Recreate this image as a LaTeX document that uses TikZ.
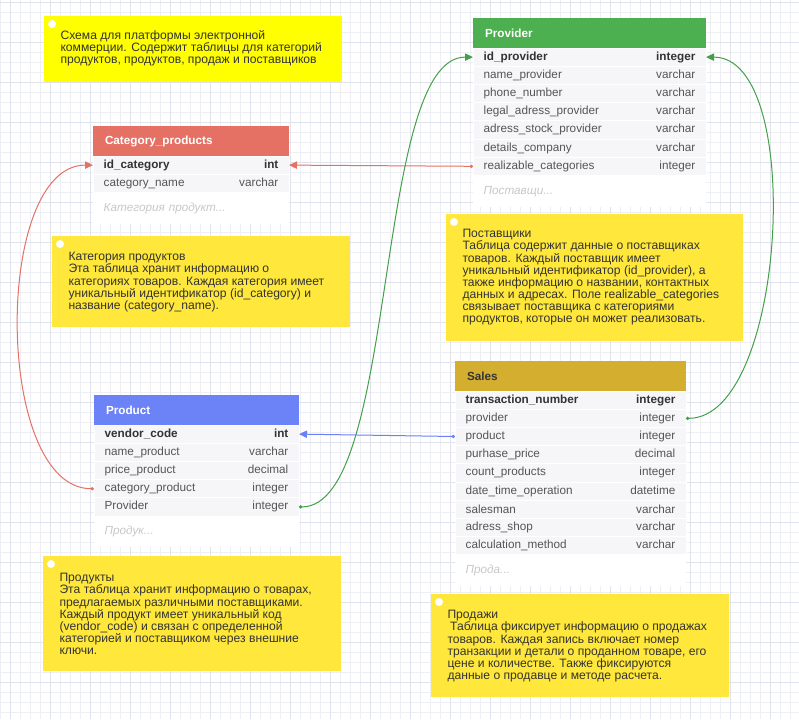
\documentclass[tikz,border=0pt]{standalone}
\usepackage{fontspec}
\setmainfont{Liberation Sans}
\usetikzlibrary{arrows.meta}

\definecolor{gridminor}{RGB}{237,239,244}
\definecolor{gridmajor}{RGB}{224,227,236}
\definecolor{catred}{RGB}{229,113,100}
\definecolor{provgreen}{RGB}{76,175,80}
\definecolor{prodblue}{RGB}{108,130,247}
\definecolor{salesgold}{RGB}{212,175,47}
\definecolor{notebright}{RGB}{255,255,0}
\definecolor{noteyel}{RGB}{255,232,59}
\definecolor{rowbg}{RGB}{246,246,248}
\definecolor{fldgrey}{RGB}{85,85,85}
\definecolor{keygrey}{RGB}{51,51,51}
\definecolor{hintgrey}{RGB}{200,200,200}
\definecolor{linkgreen}{RGB}{67,160,71}
\definecolor{linkblue}{RGB}{108,128,245}

\tikzset{every picture/.style={line width=0.75pt}}
\tikzset{
  tblhead/.style={anchor=north west, inner xsep=9pt, inner ysep=0pt, outer sep=0pt, minimum height=22.5pt,
    align=left, text=white, font=\bfseries\fontsize{8.8}{10}\selectfont},
  fld/.style={anchor=north west, fill=rowbg, draw=white, line width=0.5pt, inner xsep=8pt,
    inner ysep=0pt, outer sep=0pt, minimum height=13.65pt, text width=#1, align=left, text=fldgrey,
    font=\fontsize{8.8}{10}\selectfont},
  keyrow/.style={text=keygrey, font=\bfseries\fontsize{8.8}{10}\selectfont},
  hint/.style={anchor=north west, fill=white, inner xsep=8pt, inner ysep=0pt, outer sep=0pt,
    minimum height=23.6pt, text width=#1, align=left, text=hintgrey,
    font=\itshape\fontsize{8.8}{10}\selectfont},
  notebox/.style={anchor=north west, inner sep=0pt, outer sep=0pt},
  notetext/.style={anchor=north west, inner sep=0pt, align=left, text=keygrey,
    font=\fontsize{9.1}{9.1}\selectfont},
  link/.style={line width=0.75pt, arrows={Circle[length=2.5pt]-Triangle[length=6pt,width=5.5pt]}}
}

\begin{document}
\begin{tikzpicture}[x=0.75pt,y=0.75pt,yscale=-1,xscale=1]
	\useasboundingbox (0,0) rectangle (799,719);
	%Background grid
	\fill [white] (0,0) rectangle (799,719);
	\draw [gridminor, line width=0.4pt, xstep=7.5pt, ystep=7.5pt, shift={(0,2)}] (0,-2) grid (799,717);
	\draw [gridmajor, line width=0.4pt, xstep=30pt, ystep=30pt, shift={(10,2)}] (-10,-2) grid (789,717);

	%Note: schema
	\node [notebox, fill=notebright, minimum width=223.5pt, minimum height=49.5pt] (n-top) at (44,16) {};
	\fill [white] ([shift={(8,8)}]n-top.north west) circle (4);
	\node [notetext] (n-top-t) at ([shift={(16,14)}]n-top.north west) {Схема для платформы электронной\\коммерции. Содержит таблицы для категорий\\продуктов, продуктов, продаж и поставщиков};

	%Table: Category_products
	\node [tblhead, fill=catred, text width=129pt] (cat) at (93,126) {Category\_products};
	\node [fld=131pt, keyrow] (cat-id) at (cat.south west) {id\_category\hfill int};
	\node [fld=131pt] (cat-name) at (cat-id.south west) {category\_name\hfill varchar};
	\node [hint=131pt] (cat-hint) at (cat-name.south west) {Категория продукт...};

	%Table: Provider
	\node [tblhead, fill=provgreen, text width=156.75pt] (prov) at (473,18) {Provider};
	\node [fld=158.75pt, keyrow] (prov-id) at (prov.south west) {id\_provider\hfill integer};
	\node [fld=158.75pt] (prov-name) at (prov-id.south west) {name\_provider\hfill varchar};
	\node [fld=158.75pt] (prov-phone) at (prov-name.south west) {phone\_number\hfill varchar};
	\node [fld=158.75pt] (prov-legal) at (prov-phone.south west) {legal\_adress\_provider\hfill varchar};
	\node [fld=158.75pt] (prov-stock) at (prov-legal.south west) {adress\_stock\_provider\hfill varchar};
	\node [fld=158.75pt] (prov-det) at (prov-stock.south west) {details\_company\hfill varchar};
	\node [fld=158.75pt] (prov-real) at (prov-det.south west) {realizable\_categories\hfill integer};
	\node [hint=158.75pt] (prov-hint) at (prov-real.south west) {Поставщи...};

	%Note: category
	\node [notebox, fill=noteyel, minimum width=223.5pt, minimum height=68.25pt] (n-cat) at (52,236) {};
	\fill [white] ([shift={(8,8)}]n-cat.north west) circle (4);
	\node [notetext] (n-cat-t) at ([shift={(16,16)}]n-cat.north west) {Категория продуктов\\Эта таблица хранит информацию о\\категориях товаров. Каждая категория имеет\\уникальный идентификатор (id\_category) и\\название (category\_name).};

	%Note: provider
	\node [notebox, fill=noteyel, minimum width=222.75pt, minimum height=95.25pt] (n-prov) at (446,214) {};
	\fill [white] ([shift={(8,8)}]n-prov.north west) circle (4);
	\node [notetext] (n-prov-t) at ([shift={(16,15)}]n-prov.north west) {Поставщики\\Таблица содержит данные о поставщиках\\товаров. Каждый поставщик имеет\\уникальный идентификатор (id\_provider), а\\также информацию о названии, контактных\\данных и адресах. Поле realizable\_categories\\связывает поставщика с категориями\\продуктов, которые он может реализовать.};

	%Table: Product
	\node [tblhead, fill=prodblue, text width=135.75pt] (prod) at (94,395) {Product};
	\node [fld=137.75pt, keyrow] (prod-id) at (prod.south west) {vendor\_code\hfill int};
	\node [fld=137.75pt] (prod-name) at (prod-id.south west) {name\_product\hfill varchar};
	\node [fld=137.75pt] (prod-price) at (prod-name.south west) {price\_product\hfill decimal};
	\node [fld=137.75pt] (prod-cat) at (prod-price.south west) {category\_product\hfill integer};
	\node [fld=137.75pt] (prod-prov) at (prod-cat.south west) {Provider\hfill integer};
	\node [hint=137.75pt] (prod-hint) at (prod-prov.south west) {Продук...};

	%Table: Sales
	\node [tblhead, fill=salesgold, text=keygrey, text width=155.25pt] (sale) at (455,361) {Sales};
	\node [fld=157.25pt, keyrow] (sale-id) at (sale.south west) {transaction\_number\hfill integer};
	\node [fld=157.25pt] (sale-prov) at (sale-id.south west) {provider\hfill integer};
	\node [fld=157.25pt] (sale-prod) at (sale-prov.south west) {product\hfill integer};
	\node [fld=157.25pt] (sale-price) at (sale-prod.south west) {purhase\_price\hfill decimal};
	\node [fld=157.25pt] (sale-count) at (sale-price.south west) {count\_products\hfill integer};
	\node [fld=157.25pt] (sale-date) at (sale-count.south west) {date\_time\_operation\hfill datetime};
	\node [fld=157.25pt] (sale-man) at (sale-date.south west) {salesman\hfill varchar};
	\node [fld=157.25pt] (sale-shop) at (sale-man.south west) {adress\_shop\hfill varchar};
	\node [fld=157.25pt] (sale-calc) at (sale-shop.south west) {calculation\_method\hfill varchar};
	\node [hint=157.25pt] (sale-hint) at (sale-calc.south west) {Прода...};

	%Note: product
	\node [notebox, fill=noteyel, minimum width=223.5pt, minimum height=86.25pt] (n-prod) at (43,556) {};
	\fill [white] ([shift={(8,8)}]n-prod.north west) circle (4);
	\node [notetext] (n-prod-t) at ([shift={(16,17)}]n-prod.north west) {Продукты\\Эта таблица хранит информацию о товарах,\\предлагаемых различными поставщиками.\\Каждый продукт имеет уникальный код\\(vendor\_code) и связан с определенной\\категорией и поставщиком через внешние\\ключи.};

	%Note: sales
	\node [notebox, fill=noteyel, minimum width=223.5pt, minimum height=77.25pt] (n-sale) at (431,594) {};
	\fill [white] ([shift={(8,8)}]n-sale.north west) circle (4);
	\node [notetext] (n-sale-t) at ([shift={(16,16)}]n-sale.north west) {Продажи\\\hspace*{2pt}Таблица фиксирует информацию о продажах\\товаров. Каждая запись включает номер\\транзакции и детали о проданном товаре, его\\цене и количестве. Также фиксируются\\данные о продавце и методе расчета.};

	%Links
	\draw [link, catred] (prov-real.west) -- (cat-id.east);
	\draw [link, catred] (prod-cat.west) .. controls +(-100,0) and +(-100,0) .. (cat-id.west);
	\draw [link, linkgreen] (prod-prov.east) .. controls +(100,0) and +(-100,0) .. (prov-id.west);
	\draw [link, linkgreen] (sale-prov.east) .. controls +(100,0) and +(100,0) .. (prov-id.east);
	\draw [link, linkblue] (sale-prod.west) -- (prod-id.east);
\end{tikzpicture}
\end{document}
